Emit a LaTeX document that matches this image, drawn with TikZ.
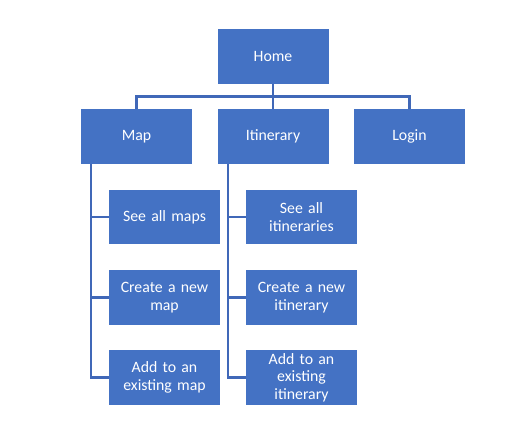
\documentclass[tikz,border=0pt]{standalone}
\usepackage{fontspec}
\setmainfont{Carlito}
\usepackage{xcolor}
\usetikzlibrary{calc,positioning}
\definecolor{boxblue}{HTML}{4472C4}
\definecolor{lineblue}{HTML}{4068B8}

\begin{document}
\begin{tikzpicture}[x=1pt,y=-1pt,
		page/.style={fill=boxblue,draw=none,text=white,minimum width=111pt,minimum height=54.5pt,inner sep=0pt,align=center,text width=108pt,font=\fontsize{15.8}{17.6}\selectfont},
		conn/.style={draw=lineblue,line width=2.2pt}]
			\useasboundingbox (0,0) rectangle (510,433);
			\node[page] (home) at (273,56.5) {Home};
			\node[page] (map) at (136.5,136.5) {Map};
			\node[page] (itin) at (273,136.5) {Itinerary};
			\node[page] (login) at (409.5,136.5) {Login};
			\node[page] (mapall) at (164.5,217) {See all maps};
			\node[page] (mapnew) at (164.5,297.5) {Create a new\\map};
			\node[page] (mapadd) at (164.5,377.5) {Add to an\\existing map};
			\node[page] (itinall) at (301.5,217) {See all\\itineraries};
			\node[page] (itinnew) at (301.5,297.5) {Create a new\\itinerary};
			\node[page] (itinadd) at (301.5,377.5) {Add to an\\existing\\itinerary};
			\coordinate (bus) at (273,96.5);
			\coordinate (mapspine) at (91,164);
			\coordinate (itinspine) at (228,164);
			\draw[conn] (home.south) -- (itin.north);
			\draw[conn] (map.north) -- (map.north |- bus) -- (login.north |- bus) -- (login.north);
			\draw[conn] (mapspine) |- (mapadd.west);
			\draw[conn] (mapspine |- mapall.west) -- (mapall.west);
			\draw[conn] (mapspine |- mapnew.west) -- (mapnew.west);
			\draw[conn] (itinspine) |- (itinadd.west);
			\draw[conn] (itinspine |- itinall.west) -- (itinall.west);
			\draw[conn] (itinspine |- itinnew.west) -- (itinnew.west);
			\end{tikzpicture}
\end{document}
